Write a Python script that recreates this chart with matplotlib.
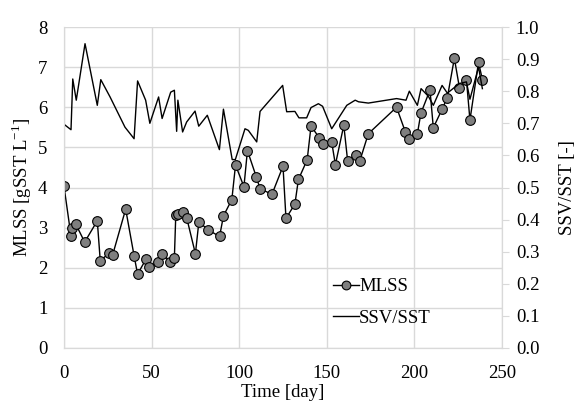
import matplotlib
matplotlib.use('Agg')
import matplotlib.pyplot as plt

plt.rcParams['font.family'] = ['Liberation Serif', 'DejaVu Serif']
plt.rcParams['mathtext.fontset'] = 'custom'
plt.rcParams['mathtext.rm'] = 'Liberation Serif'

# MLSS [gSST/L] 数据
mlss_day = [0, 4, 4.8, 6.8, 11.8, 19, 20.7, 25.5, 27.7, 35.2, 40, 42, 47, 48.7,
            53.7, 56, 60.7, 63, 63.8, 65.3, 68, 70, 75, 77, 82, 88.8, 91, 95.8,
            97.9, 102.7, 104.7, 109.8, 111.9, 118.7, 125, 126.7, 131.8, 133.8,
            138.8, 141, 145.7, 147.6, 152.8, 154.9, 159.7, 161.9, 166.8, 168.9,
            173.7, 189.8, 194.8, 196.9, 201.7, 203.7, 208.9, 210.8, 215.8,
            218.8, 222.8, 225.7, 229.7, 231.7, 236.6, 238.8]
mlss = [4.03, 2.79, 2.98, 3.08, 2.64, 3.17, 2.17, 2.36, 2.31, 3.46, 2.30, 1.84,
        2.23, 2.03, 2.14, 2.35, 2.15, 2.25, 3.31, 3.33, 3.39, 3.25, 2.35, 3.15,
        2.95, 2.78, 3.29, 3.70, 4.56, 4.02, 4.92, 4.26, 3.97, 3.83, 4.53, 3.23,
        3.59, 4.20, 4.69, 5.53, 5.24, 5.08, 5.13, 4.57, 5.55, 4.66, 4.81, 4.67,
        5.34, 6.00, 5.39, 5.21, 5.34, 5.85, 6.43, 5.49, 5.95, 6.24, 7.22, 6.49,
        6.69, 5.68, 7.12, 6.69]

# SSV/SST 比值
ratio_day = [0, 4, 5, 7, 12, 19, 21, 26.3, 34.8, 40, 42, 46.6, 49, 54, 56, 60.9,
             63, 64.3, 65, 67.7, 70, 74.8, 76.9, 81.8, 88.7, 91, 96, 97.8, 103.3,
             105.2, 110, 111.9, 124.8, 127.1, 131.8, 134.1, 138.5, 141, 145.2,
             147.6, 152.8, 161.4, 166.2, 168.1, 173.7, 189.8, 195.2, 197.1,
             201.7, 203.8, 208, 210.8, 215.8, 218.8, 225.7, 229.7, 231.7, 236.6,
             238.8]
ratio = [0.697, 0.680, 0.838, 0.772, 0.948, 0.756, 0.836, 0.782, 0.688, 0.652,
         0.832, 0.772, 0.700, 0.782, 0.715, 0.797, 0.803, 0.675, 0.772, 0.673,
         0.704, 0.738, 0.691, 0.725, 0.618, 0.744, 0.587, 0.587, 0.683, 0.678,
         0.642, 0.737, 0.818, 0.736, 0.737, 0.717, 0.717, 0.749, 0.761, 0.753,
         0.683, 0.756, 0.772, 0.767, 0.763, 0.777, 0.772, 0.800, 0.756, 0.808,
         0.784, 0.756, 0.818, 0.794, 0.824, 0.829, 0.775, 0.875, 0.808]

grid_c = '#d9d9d9'
fs = 13.5

fig = plt.figure(figsize=(5.79, 4.04), dpi=100)
ax = fig.add_axes([64 / 579, 1 - 348 / 404, 438 / 579, 321 / 404])
ax2 = ax.twinx()

l1, = ax.plot(mlss_day, mlss, '-o', color='black', lw=1.0,
              markerfacecolor='#7f7f7f', markeredgecolor='black',
              markeredgewidth=0.8, markersize=7, label='MLSS', zorder=3)
l2, = ax2.plot(ratio_day, ratio, '-', color='black', lw=1.0, label='SSV/SST')

ax.set_xlim(0, 250)
ax.set_ylim(0, 8)
ax2.set_ylim(0, 1.0)
ax.set_xticks(range(0, 251, 50))
ax.set_yticks(range(0, 9))
ax2.set_yticks([i / 10 for i in range(11)])
ax2.set_yticklabels([f'{i / 10:.1f}' for i in range(11)])

ax.grid(True, color=grid_c, lw=1.0)
ax.set_axisbelow(True)
for a in (ax, ax2):
    a.spines['top'].set_visible(False)
    a.spines['left'].set_color(grid_c)
    a.spines['bottom'].set_color(grid_c)
    a.spines['right'].set_color(grid_c)
    a.tick_params(labelsize=fs)
ax.tick_params(axis='y', length=0, pad=12)
ax.tick_params(axis='x', length=0, pad=12)
ax2.tick_params(axis='y', length=5, color=grid_c, direction='out', pad=5)

ax.set_xlabel('Time [day]', fontsize=fs, labelpad=2)
ax.set_ylabel('MLSS [gSST L$^{-1}$]', fontsize=fs, labelpad=3)
ax2.set_ylabel('SSV/SST [-]', fontsize=fs, labelpad=14)

ax.legend([l1, l2], ['MLSS', 'SSV/SST'], loc='center left',
          bbox_to_anchor=(0.575, 0.142), frameon=False, fontsize=fs,
          handlelength=1.4, handletextpad=0.0, labelspacing=0.75, markerscale=0.9)

fig.savefig('out.png', dpi=100, facecolor='white')
